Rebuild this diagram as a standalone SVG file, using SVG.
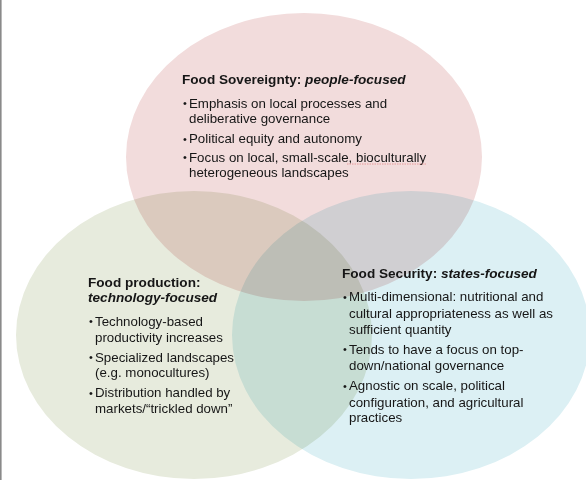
<svg xmlns="http://www.w3.org/2000/svg" width="586" height="480" viewBox="0 0 586 480">
<style>
.ell{mix-blend-mode:multiply}
.t{font-family:"Liberation Sans",Arial,sans-serif;font-size:13.3px;fill:#161616}
.h{font-family:"Liberation Sans",Arial,sans-serif;font-size:13.6px;font-weight:bold;fill:#161616}
.i{font-style:italic}
.b{font-family:"Liberation Sans",Arial,sans-serif;font-size:11px;fill:#161616}
</style>
<rect x="0" y="0" width="586" height="480" fill="#ffffff"/>
<rect x="0" y="0" width="1.6" height="480" fill="#8a8a8a"/>
<g id="food-sovereignty">
<ellipse class="ell" cx="304" cy="157" rx="178" ry="144" fill="#f2dcdc"/>
<text class="h" x="182" y="84">Food Sovereignty: <tspan class="i">people-focused</tspan></text>
<text class="b" x="183" y="107">•</text>
<text class="t" x="189" y="107.5">Emphasis on local processes and</text>
<text class="t" x="189" y="123">deliberative governance</text>
<text class="b" x="183" y="142.5">•</text>
<text class="t" x="189" y="143">Political equity and autonomy</text>
<text class="b" x="183" y="161">•</text>
<text class="t" x="189" y="161.5">Focus on local, small-scale, bioculturally</text>
<text class="t" x="189" y="177">heterogeneous landscapes</text>
<line x1="347" y1="164" x2="426" y2="164" stroke="#e58a8a" stroke-width="0.8" stroke-dasharray="1.5 1"/>
</g>
<g id="food-production">
<ellipse class="ell" cx="194" cy="335" rx="178" ry="144" fill="#e7ebdd"/>
<text class="h" x="88" y="286.5">Food production:</text>
<text class="h i" x="88" y="302">technology-focused</text>
<text class="b" x="89" y="325">•</text>
<text class="t" x="95" y="325.5">Technology-based</text>
<text class="t" x="95" y="341.5">productivity increases</text>
<text class="b" x="89" y="361">•</text>
<text class="t" x="95" y="361.5">Specialized landscapes</text>
<text class="t" x="95" y="377">(e.g. monocultures)</text>
<text class="b" x="89" y="396.5">•</text>
<text class="t" x="95" y="397">Distribution handled by</text>
<text class="t" x="95" y="413">markets/“trickled down”</text>
</g>
<g id="food-security">
<ellipse class="ell" cx="411" cy="335" rx="179" ry="144" fill="#dcf0f4"/>
<text class="h" x="342" y="277.5">Food Security: <tspan class="i">states-focused</tspan></text>
<text class="b" x="343" y="300.5">•</text>
<text class="t" x="349" y="301">Multi-dimensional: nutritional and</text>
<text class="t" x="349" y="318">cultural appropriateness as well as</text>
<text class="t" x="349" y="333.5">sufficient quantity</text>
<text class="b" x="343" y="353">•</text>
<text class="t" x="349" y="353.5">Tends to have a focus on top-</text>
<text class="t" x="349" y="370">down/national governance</text>
<text class="b" x="343" y="389.5">•</text>
<text class="t" x="349" y="390">Agnostic on scale, political</text>
<text class="t" x="349" y="406.5">configuration, and agricultural</text>
<text class="t" x="349" y="422">practices</text>
</g>
<g id="connectors"/>
</svg>
